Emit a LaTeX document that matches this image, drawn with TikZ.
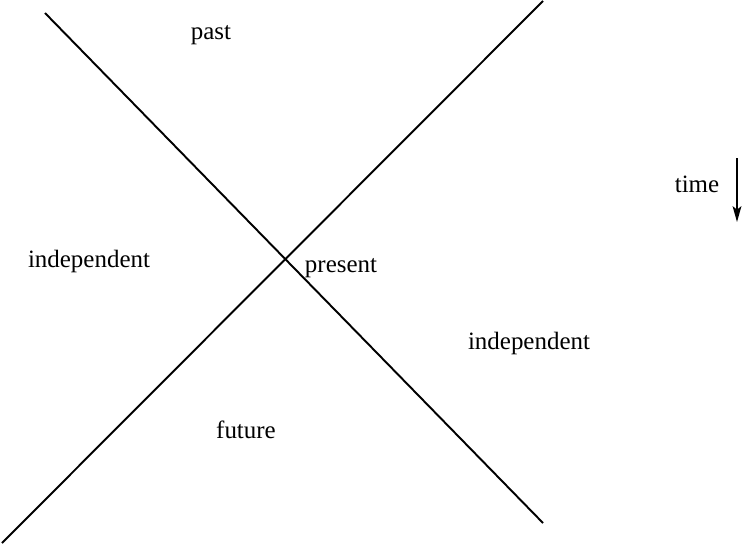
\documentclass[tikz,border=0pt]{standalone}
\usepackage{fontspec}
\setmainfont{Liberation Serif}
\usetikzlibrary{arrows.meta}
\begin{document}
\begin{tikzpicture}[lbl/.style={inner sep=0pt,font=\fontsize{14.2}{17}\selectfont}]
\useasboundingbox (0,0) rectangle (14.9,10.9);
\coordinate (pastend) at (0.9,10.64);
\coordinate (futend) at (10.86,0.44);
\coordinate (pastend2) at (10.86,10.88);
\coordinate (futend2) at (0.04,0.04);
\draw[line width=1.1pt] (pastend) -- (futend);
\draw[line width=1.1pt] (pastend2) -- (futend2);
\node[lbl] (past) at (4.22,10.2) {past};
\node[lbl] (indl) at (1.78,5.68) {independent};
\node[lbl] (present) at (6.82,5.54) {present};
\node[lbl] (indr) at (10.58,4.04) {independent};
\node[lbl] (future) at (4.92,2.3) {future};
\node[lbl] (time) at (13.94,7.22) {time};
\coordinate (ttop) at (14.74,7.74);
\coordinate (tbot) at (14.74,6.46);
\draw[-{Stealth[length=9pt,width=5pt,inset=2pt]},line width=0.9pt] (ttop) -- (tbot);
\end{tikzpicture}
\end{document}
